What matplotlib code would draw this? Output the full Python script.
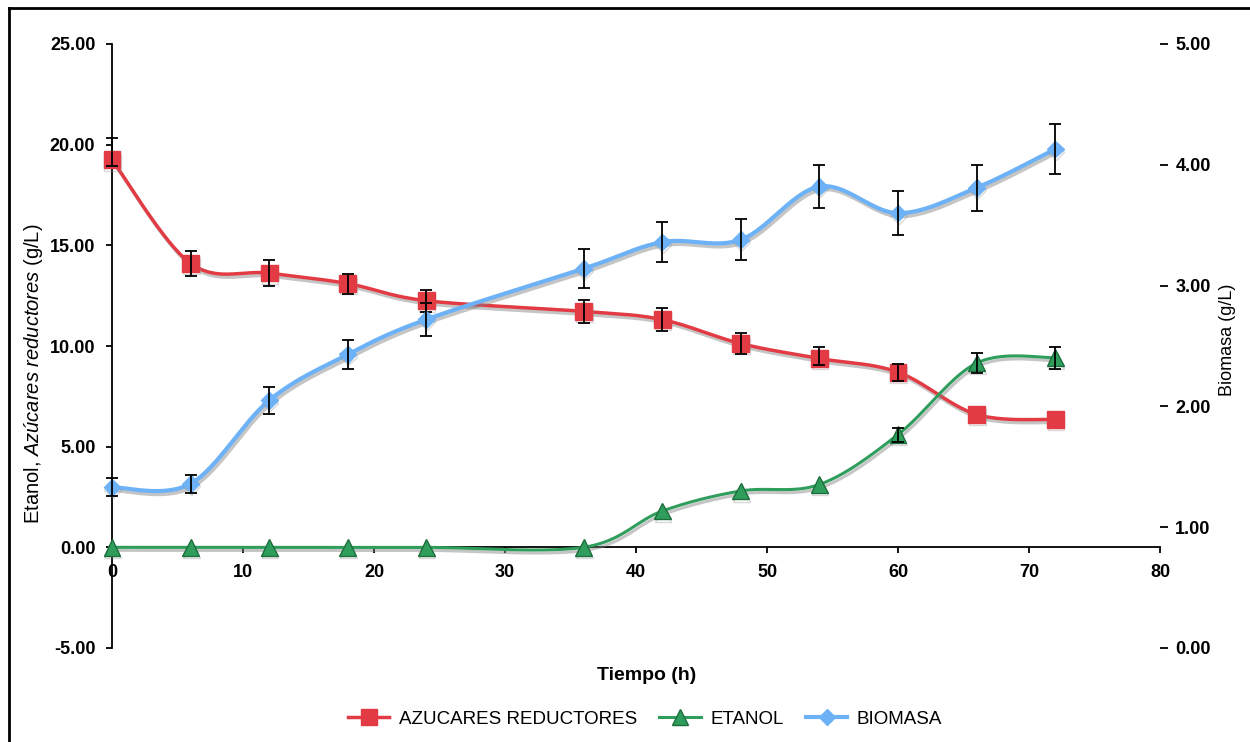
import numpy as np
import matplotlib.pyplot as plt
import matplotlib.patheffects as pe
from matplotlib.lines import Line2D

# ---------- data ----------
tiempo = [0, 6, 12, 18, 24, 36, 42, 48, 54, 60, 66, 72]

azucares = [19.25, 14.1, 13.62, 13.1, 12.25, 11.72, 11.31, 10.12, 9.38, 8.7, 6.6, 6.35]
azucares_err_inf = [0.3, 0.62, 0.65, 0.5, 0.55, 0.58, 0.57, 0.52, 0.3, 0.43, 0.0, 0.0]
azucares_err_sup = [1.1, 0.62, 0.65, 0.5, 0.55, 0.58, 0.57, 0.52, 0.55, 0.43, 0.0, 0.0]

etanol = [0.0, 0.0, 0.0, 0.0, 0.0, 0.0, 1.8, 2.8, 3.12, 5.6, 9.15, 9.42]
etanol_err = [0.0, 0.0, 0.0, 0.0, 0.0, 0.0, 0.0, 0.0, 0.0, 0.35, 0.5, 0.55]

biomasa = [1.33, 1.36, 2.05, 2.43, 2.72, 3.14, 3.36, 3.38, 3.82, 3.60, 3.81, 4.13]
biomasa_err = [0.075, 0.075, 0.11, 0.12, 0.14, 0.16, 0.165, 0.17, 0.18, 0.18, 0.19, 0.21]

ROJO = "#E23B44"
VERDE = "#2F9E5C"
VERDE_OSC = "#1D6E3C"
AZUL = "#6DB2F6"

plt.rcParams["font.family"] = ["Liberation Sans", "DejaVu Sans"]
plt.rcParams["mathtext.fontset"] = "custom"
plt.rcParams["mathtext.rm"] = "Liberation Sans"
plt.rcParams["mathtext.it"] = "Liberation Sans:italic"


def suavizar(x, y, n=40):
    """Piecewise cubic Bezier through the points (spreadsheet-style smooth line)."""
    p = np.column_stack([x, y]).astype(float)
    m = len(p)
    xs, ys = [], []
    t = np.linspace(0, 1, n)
    for i in range(m - 1):
        p0 = p[i]
        p3 = p[i + 1]
        prev = p[i - 1] if i > 0 else p[i]
        nxt = p[i + 2] if i + 2 < m else p[i + 1]
        p1 = p0 + (p3 - prev) / 6.0
        p2 = p3 - (nxt - p0) / 6.0
        b = ((1 - t) ** 3)[:, None] * p0 + (3 * (1 - t) ** 2 * t)[:, None] * p1 \
            + (3 * (1 - t) * t ** 2)[:, None] * p2 + (t ** 3)[:, None] * p3
        xs.extend(b[:, 0])
        ys.extend(b[:, 1])
    return np.array(xs), np.array(ys)


sombra = [pe.SimpleLineShadow(offset=(1.2, -2.2), shadow_color="#808080", alpha=0.45),
          pe.Normal()]
sombra_mk = [pe.SimpleLineShadow(offset=(0.5, -1.8), shadow_color="#909090", alpha=0.35),
             pe.Normal()]

fig = plt.figure(figsize=(12.5, 7.42), dpi=100)
ax = fig.add_axes([112 / 1250, 1 - 648 / 742, (1160 - 112) / 1250, (648 - 44) / 742])

# left axis: sugars and ethanol
xs, ys = suavizar(tiempo, azucares)
ax.plot(xs, ys, color=ROJO, lw=2.5, zorder=3, path_effects=sombra)
ax.plot(tiempo, azucares, ls="none", marker="s", ms=12, color=ROJO, mec=ROJO,
        zorder=4, clip_on=False, path_effects=sombra_mk)

xs, ys = suavizar(tiempo, etanol)
ax.plot(xs, ys, color=VERDE, lw=2.2, zorder=3, path_effects=sombra)
ax.plot(tiempo, etanol, ls="none", marker="^", ms=12, color=VERDE, mec=VERDE_OSC,
        mew=1.0, zorder=4, clip_on=False, path_effects=sombra_mk)

t_arr = np.array(tiempo)
lo = np.array(azucares_err_inf)
hi = np.array(azucares_err_sup)
k = (lo + hi) > 0
ax.errorbar(t_arr[k], np.array(azucares)[k], yerr=[lo[k], hi[k]], fmt="none",
            ecolor="black", elinewidth=1.3, capsize=4.5, capthick=1.3, zorder=5, clip_on=False)
e = np.array(etanol_err)
k = e > 0
ax.errorbar(t_arr[k], np.array(etanol)[k], yerr=e[k], fmt="none",
            ecolor="black", elinewidth=1.3, capsize=4.5, capthick=1.3, zorder=5)

ax.set_xlim(0, 80)
ax.set_ylim(-5, 25)
ax.set_xticks(range(0, 81, 10))
ax.set_yticks(np.arange(-5, 25.1, 5))
ax.yaxis.set_major_formatter(plt.FormatStrFormatter("%.2f"))
ax.spines["top"].set_visible(False)
ax.spines["right"].set_visible(False)
ax.spines["bottom"].set_position(("data", 0))
for s in ("left", "bottom"):
    ax.spines[s].set_linewidth(1.3)
ax.tick_params(axis="y", direction="out", length=4, width=1.3, pad=8, labelsize=13)
ax.tick_params(axis="x", direction="out", length=4, width=1.3, pad=8, labelsize=13)
for lab in ax.get_xticklabels() + ax.get_yticklabels():
    lab.set_fontweight("bold")

# right axis: biomass
ax2 = ax.twinx()
xs, ys = suavizar(tiempo, biomasa)
ax2.plot(xs, ys, color=AZUL, lw=3.0, zorder=3, path_effects=sombra)
ax2.plot(tiempo, biomasa, ls="none", marker="D", ms=8.5, color=AZUL, mec=AZUL,
         zorder=4, clip_on=False, path_effects=sombra_mk)
ax2.errorbar(tiempo, biomasa, yerr=biomasa_err, fmt="none", ecolor="black",
             elinewidth=1.3, capsize=4.5, capthick=1.3, zorder=5, clip_on=False)
ax2.set_ylim(0, 5)
ax2.set_yticks(np.arange(0, 5.1, 1))
ax2.yaxis.set_major_formatter(plt.FormatStrFormatter("%.2f"))
for s in ax2.spines.values():
    s.set_visible(False)
ax2.tick_params(axis="y", direction="out", length=6, width=1.3, pad=5, labelsize=13)
for lab in ax2.get_yticklabels():
    lab.set_fontweight("bold")

# axis titles
fig.text(34 / 1250, 1 - 374 / 742, r"Etanol, $\mathit{Azúcares\ reductores}$ (g/L)",
         rotation=90, ha="center", va="center", fontsize=14.5)
fig.text(1228 / 1250, 1 - 340 / 742, "Biomasa (g/L)", rotation=90,
         ha="center", va="center", fontsize=13)
fig.text(647 / 1250, 1 - 676 / 742, "Tiempo (h)", ha="center", va="center",
         fontsize=14, fontweight="bold")

# legend
handles = [
    Line2D([], [], color=ROJO, lw=2.5, marker="s", ms=12, mec=ROJO),
    Line2D([], [], color=VERDE, lw=2.2, marker="^", ms=12, mec=VERDE_OSC),
    Line2D([], [], color=AZUL, lw=3.0, marker="D", ms=8.5, mec=AZUL),
]
fig.legend(handles, ["AZUCARES REDUCTORES", "ETANOL", "BIOMASA"], ncol=3,
           loc="center", bbox_to_anchor=(645 / 1250, 1 - 719 / 742), frameon=False,
           fontsize=13.5, handlelength=2.2, handletextpad=0.5, columnspacing=1.2)

# outer frame
fig.add_artist(Line2D([9 / 1250, 1.0], [1 - 8 / 742, 1 - 8 / 742], color="black", lw=2))
fig.add_artist(Line2D([9 / 1250, 9 / 1250], [0.0, 1 - 8 / 742], color="black", lw=2))

fig.savefig("out.png", dpi=100)
